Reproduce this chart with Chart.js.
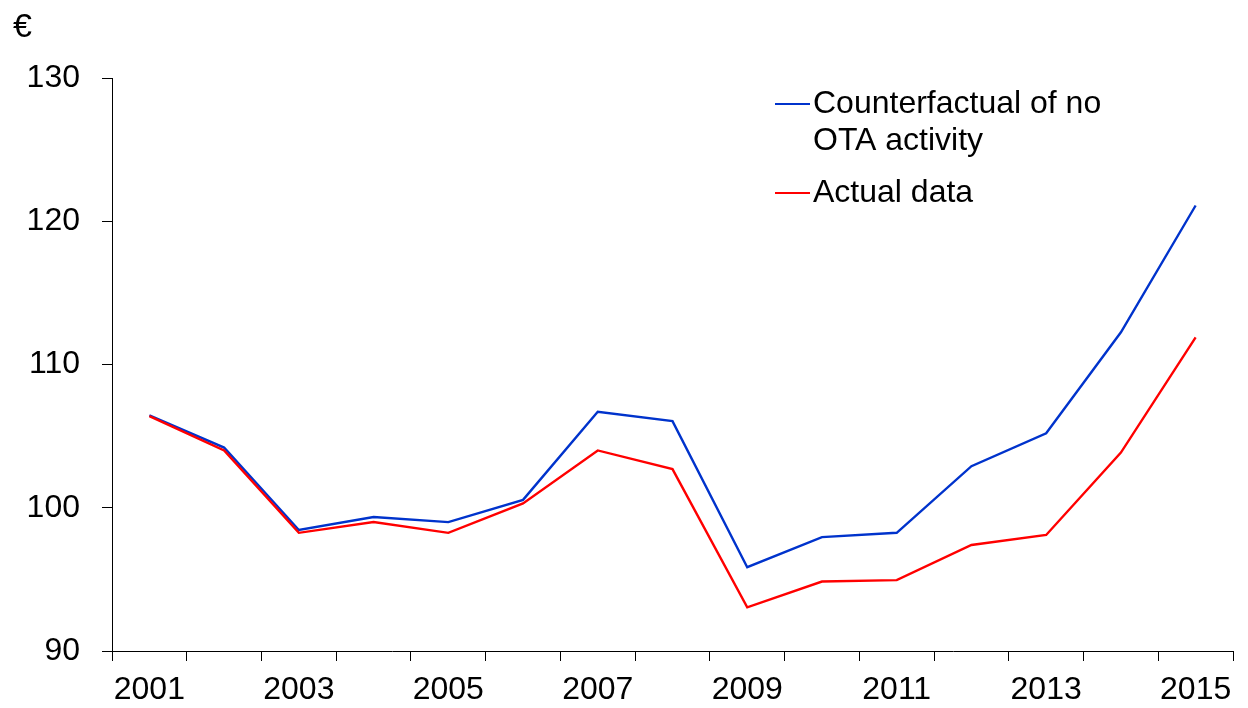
<!DOCTYPE html>
<html>
<head>
<meta charset="utf-8">
<script src="https://cdn.jsdelivr.net/npm/chart.js@4/dist/chart.umd.min.js"></script>
<style>
html,body{margin:0;padding:0;background:#fff;}
#wrap{position:relative;width:1248px;height:708px;}
</style>
</head>
<body>
<div id="wrap"><canvas id="c" width="1248" height="708"></canvas></div>
<script>
const years = ['2001','2002','2003','2004','2005','2006','2007','2008','2009','2010','2011','2012','2013','2014','2015'];
const counterfactual = [106.45, 104.2, 98.45, 99.35, 99.0, 100.55, 106.7, 106.05, 95.85, 97.95, 98.25, 102.9, 105.2, 112.25, 121.1];
const actual = [106.4, 104.0, 98.25, 99.0, 98.25, 100.3, 104.0, 102.7, 93.05, 94.85, 94.95, 97.4, 98.1, 103.85, 111.9];
const seriesLabels = [['Counterfactual of no', 'OTA activity'], ['Actual data']];
const unitLabel = '€';
const yTicks = [90, 100, 110, 120, 130];

const FONT = 'Liberation Sans, Arial, sans-serif';

const overlay = {
  id: 'overlay',
  afterDraw(chart) {
    const ctx = chart.ctx;
    ctx.save();
    ctx.fillStyle = '#000';
    ctx.textAlign = 'left';
    ctx.textBaseline = 'alphabetic';
    ctx.font = '34px ' + FONT;
    ctx.fillText(unitLabel, 13, 37);
    ctx.font = '32px ' + FONT;
    const entries = [
      {y: 104, lines: chart.data.datasets[0].label, color: chart.data.datasets[0].borderColor},
      {y: 193, lines: chart.data.datasets[1].label, color: chart.data.datasets[1].borderColor}
    ];
    entries.forEach(e => {
      ctx.strokeStyle = e.color;
      ctx.lineWidth = 2;
      ctx.beginPath();
      ctx.moveTo(775, e.y);
      ctx.lineTo(810, e.y);
      ctx.stroke();
      const lines = Array.isArray(e.lines) ? e.lines : [e.lines];
      lines.forEach((t, i) => {
        ctx.fillText(t, 813, e.y + 9 + i * 37);
      });
    });
    ctx.restore();
  }
};

new Chart(document.getElementById('c'), {
  type: 'line',
  data: {
    labels: years,
    datasets: [
      {label: seriesLabels[0], data: counterfactual, borderColor: '#0033cc', borderWidth: 2.4, pointRadius: 0, tension: 0, order: 2},
      {label: seriesLabels[1], data: actual, borderColor: '#ff0000', borderWidth: 2.4, pointRadius: 0, tension: 0, order: 1}
    ]
  },
  options: {
    responsive: false,
    animation: false,
    layout: {padding: {top: 78, right: 15, left: 0, bottom: 0}},
    plugins: {legend: {display: false}, tooltip: {enabled: false}},
    scales: {
      x: {
        type: 'category',
        offset: true,
        grid: {offset: true, drawOnChartArea: false, tickLength: 10, color: '#000', tickColor: '#000', lineWidth: 1},
        border: {color: '#000', width: 1},
        ticks: {
          autoSkip: false, maxRotation: 0, color: '#000', padding: 10,
          font: {family: FONT, size: 32},
          callback: function(v, i) { return (i % 2 === 0) ? this.getLabelForValue(v) : ''; }
        },
        afterFit: s => { s.height = 57; }
      },
      y: {
        min: 90, max: 130,
        afterBuildTicks: s => { s.ticks = yTicks.map(v => ({value: v})); },
        grid: {drawOnChartArea: false, tickLength: 10, color: '#000', tickColor: '#000'},
        border: {color: '#000', width: 1},
        ticks: {color: '#000', padding: 22, font: {family: FONT, size: 32}},
        afterFit: s => { s.width = 112; }
      }
    }
  },
  plugins: [overlay]
});
</script>
</body>
</html>
